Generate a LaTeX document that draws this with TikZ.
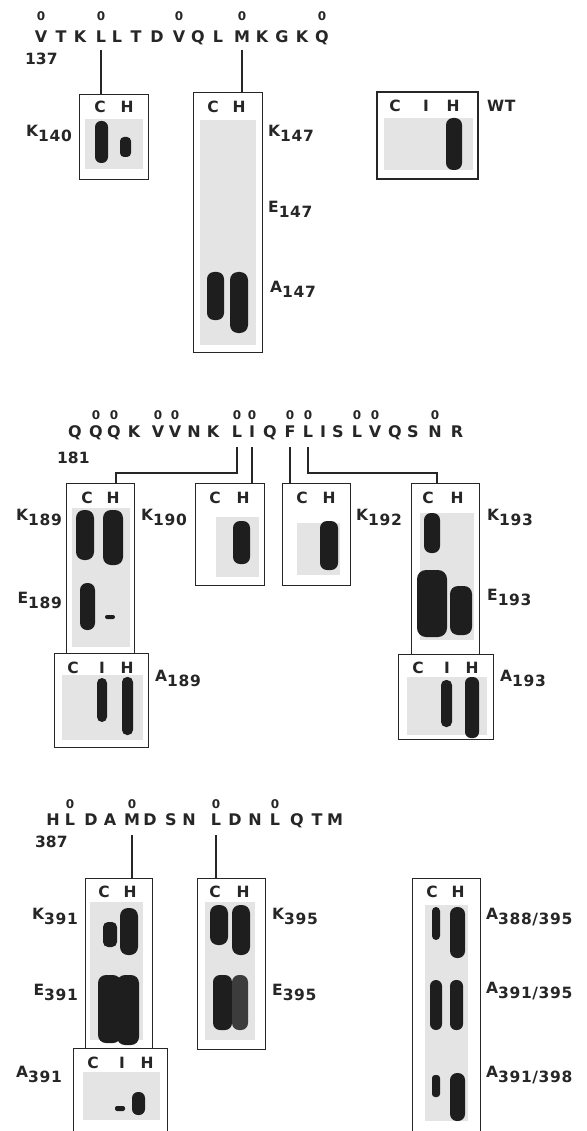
\documentclass[tikz,border=0pt]{standalone}
\usepackage{fontspec}
\setmainfont{DejaVu Sans}
\newfontfamily\labfont[LetterSpace=4]{DejaVu Sans}
\usetikzlibrary{calc}
\definecolor{gelgray}{HTML}{E4E4E4}
\definecolor{bandc}{HTML}{1E1E1E}
\definecolor{bandlight}{HTML}{3C3C3C}
\definecolor{inkc}{HTML}{262626}
\newcommand{\lo}[1]{\raisebox{-5pt}{#1}}
\begin{document}
\begin{tikzpicture}[x=1pt,y=-1pt,
  seq/.style={inner sep=0pt, anchor=base, font=\fontsize{16}{16}\selectfont\bfseries, text=inkc},
  omark/.style={inner sep=0pt, anchor=base, font=\fontsize{12}{12}\selectfont\bfseries, text=inkc},
  lane/.style={inner sep=0pt, anchor=base, font=\fontsize{15.5}{16}\selectfont\bfseries, text=inkc},
  lab/.style={inner sep=0pt, font=\labfont\fontsize{15.5}{16}\selectfont\bfseries, text=inkc},
  num/.style={inner sep=0pt, anchor=base west, font=\fontsize{15.5}{16}\selectfont\bfseries, text=inkc},
  gelbox/.style={draw=inkc, line width=1.3pt, inner sep=0pt, anchor=north west},
  conn/.style={draw=inkc, line width=1.2pt},
  gel/.style={fill=gelgray},
  band/.style={fill=bandc, rounded corners=#1},
  band/.default=5pt,
]
\clip (0,0) rectangle (586,1131);
\fill[white] (0,0) rectangle (586,1131);

% ================= TOP SECTION =================
\foreach \ch/\xx [count=\i] in {V/41,T/61,K/80,L/101,L/117,T/136,D/157,V/179,Q/198,L/218,M/242,K/262,G/282,K/302,Q/322}
  \node[seq] (t\i) at (\xx,43) {\ch};
\foreach \k in {1,4,8,11,15}
  \node[omark] (to\k) at (t\k |- 0,21) {0};
\node[num] (n137) at (25,65) {137};

\node[gelbox, minimum width=69pt, minimum height=85pt] (k140) at (79,94) {};
\node[gelbox, minimum width=69pt, minimum height=260pt] (k147) at (193,92) {};
\node[gelbox, line width=2.4pt, minimum width=101pt, minimum height=87pt] (wt) at (376,91) {};

\draw[conn] ([yshift=-7pt]t4.base) -- (t4 |- k140.north);
\draw[conn] ([yshift=-7pt]t11.base) -- (t11 |- k147.north);

\fill[gel] (85,119) rectangle (143,169);
\fill[band=6pt] (95,121) rectangle (108,163);
\fill[band=4pt] (120,137) rectangle (131,157);
\fill[gel] (200,120) rectangle (256,345);
\fill[band=7pt] (207,272) rectangle (224,320);
\fill[band=8pt] (230,272) rectangle (248,333);
\fill[gel] (384,118) rectangle (473,170);
\fill[band=7pt] (446,118) rectangle (462,170);

\node[lane] (k140c) at (100,113) {C};
\node[lane] (k140h) at (127,113) {H};
\node[lane] (k147c) at (213,113) {C};
\node[lane] (k147h) at (239,113) {H};
\node[lane] (wtc) at (395,112) {C};
\node[lane] (wti) at (426,112) {I};
\node[lane] (wth) at (453,112) {H};

\node[lab, anchor=base east] (lk140) at (72,137) {K\lo{140}};
\node[lab, anchor=base west] (lk147) at (268,137) {K\lo{147}};
\node[lab, anchor=base west] (le147) at (268,213) {E\lo{147}};
\node[lab, anchor=base west] (la147) at (270,293) {A\lo{147}};
\node[lab, anchor=base west] (lwt) at (487,112) {WT};

% ================= MIDDLE SECTION =================
\foreach \ch/\xx [count=\i] in {Q/75,Q/96,Q/114,K/134,V/158,V/175,N/194,K/213,L/237,I/252,Q/270,F/290,L/308,I/323,S/338,L/357,V/375,Q/395,S/413,N/435,R/457}
  \node[seq] (m\i) at (\xx,437) {\ch};
\foreach \k in {2,3,5,6,9,10,12,13,16,17,20}
  \node[omark] (mo\k) at (m\k |- 0,419) {0};
\node[num] (n181) at (57,463) {181};

\node[gelbox, minimum width=68pt, minimum height=170pt] (k189) at (66,483) {};
\node[gelbox, minimum width=94pt, minimum height=94pt] (a189) at (54,653) {};
\node[gelbox, minimum width=69pt, minimum height=102pt] (k190) at (195,483) {};
\node[gelbox, minimum width=68pt, minimum height=102pt] (k192) at (282,483) {};
\node[gelbox, minimum width=68pt, minimum height=171pt] (k193) at (411,483) {};
\node[gelbox, minimum width=95pt, minimum height=85pt] (a193) at (398,654) {};

\coordinate (j1) at (116,473);
\coordinate (j2) at (437,473);
\draw[conn] ([yshift=-10pt]m9.base) |- (j1) -- (j1 |- k189.north);
\draw[conn] ([yshift=-10pt]m10.base) -- (m10 |- k190.north);
\draw[conn] ([yshift=-10pt]m12.base) -- (m12 |- k192.north);
\draw[conn] ([yshift=-10pt]m13.base) |- (j2) -- (j2 |- k193.north);

\fill[gel] (72,508) rectangle (130,647);
\fill[band=8pt] (76,510) rectangle (94,560);
\fill[band=8pt] (103,510) rectangle (123,565);
\fill[band=7pt] (80,583) rectangle (95,630);
\fill[band=2pt] (105,615) rectangle (115,619);
\fill[gel] (62,675) rectangle (143,740);
\fill[band=5pt] (97,678) rectangle (107,722);
\fill[band=5pt] (122,677) rectangle (133,735);
\fill[gel] (216,517) rectangle (259,577);
\fill[band=7pt] (233,521) rectangle (250,564);
\fill[gel] (297,523) rectangle (340,575);
\fill[band=7pt] (320,521) rectangle (338,570);
\fill[gel] (420,513) rectangle (474,640);
\fill[band=7pt] (424,513) rectangle (440,553);
\fill[band=9pt] (417,570) rectangle (447,637);
\fill[band=8pt] (450,586) rectangle (472,635);
\fill[gel] (407,677) rectangle (487,735);
\fill[band=5pt] (441,680) rectangle (452,727);
\fill[band=6pt] (465,677) rectangle (479,738);

\node[lane] (k189c) at (87,503) {C};
\node[lane] (k189h) at (113,503) {H};
\node[lane] (a189c) at (73,673) {C};
\node[lane] (a189i) at (102,673) {I};
\node[lane] (a189h) at (127,673) {H};
\node[lane] (k190c) at (215,503) {C};
\node[lane] (k190h) at (243,503) {H};
\node[lane] (k192c) at (302,503) {C};
\node[lane] (k192h) at (329,503) {H};
\node[lane] (k193c) at (428,503) {C};
\node[lane] (k193h) at (457,503) {H};
\node[lane] (a193c) at (418,673) {C};
\node[lane] (a193i) at (447,673) {I};
\node[lane] (a193h) at (472,673) {H};

\node[lab, anchor=base east] (lk189) at (62,520) {K\lo{189}};
\node[lab, anchor=base east] (le189) at (62,603) {E\lo{189}};
\node[lab, anchor=base west] (la189) at (155,681) {A\lo{189}};
\node[lab, anchor=base west] (lk190) at (141,520) {K\lo{190}};
\node[lab, anchor=base west] (lk192) at (356,520) {K\lo{192}};
\node[lab, anchor=base west] (lk193) at (487,520) {K\lo{193}};
\node[lab, anchor=base west] (le193) at (487,600) {E\lo{193}};
\node[lab, anchor=base west] (la193) at (500,681) {A\lo{193}};

% ================= BOTTOM SECTION =================
\foreach \ch/\xx [count=\i] in {H/53,L/70,D/91,A/110,M/132,D/150,S/171,N/189,L/216,D/235,N/255,L/275,Q/297,T/317,M/335}
  \node[seq] (b\i) at (\xx,825) {\ch};
\foreach \k in {2,5,9,12}
  \node[omark] (bo\k) at (b\k |- 0,808) {0};
\node[num] (n387) at (35,847) {387};

\node[gelbox, minimum width=67pt, minimum height=170pt] (k391) at (85,878) {};
\node[gelbox, minimum width=94pt, minimum height=92pt] (a391) at (73,1048) {};
\node[gelbox, minimum width=68pt, minimum height=171pt] (k395) at (197,878) {};
\node[gelbox, minimum width=68pt, minimum height=262pt] (dbl) at (412,878) {};

\draw[conn] ([yshift=-10pt]b5.base) -- (b5 |- k391.north);
\draw[conn] ([yshift=-10pt]b9.base) -- (b9 |- k395.north);

\fill[gel] (90,902) rectangle (143,1040);
\fill[band=5pt] (103,922) rectangle (117,947);
\fill[band=8pt] (120,908) rectangle (138,955);
\fill[band=8pt] (98,975) rectangle (121,1043);
\fill[band=8pt] (117,975) rectangle (139,1045);
\fill[gel] (83,1072) rectangle (160,1120);
\fill[band=2pt] (115,1106) rectangle (125,1111);
\fill[band=6pt] (132,1092) rectangle (145,1115);
\fill[gel] (205,902) rectangle (255,1040);
\fill[band=8pt] (210,905) rectangle (228,945);
\fill[band=8pt] (232,905) rectangle (250,955);
\fill[band=7pt] (213,975) rectangle (232,1030);
\fill[band=7pt, fill=bandlight] (232,975) rectangle (248,1030);
\fill[gel] (425,905) rectangle (468,1121);
\fill[band=4pt] (432,907) rectangle (440,940);
\fill[band=7pt] (450,907) rectangle (465,958);
\fill[band=6pt] (430,980) rectangle (442,1030);
\fill[band=6pt] (450,980) rectangle (463,1030);
\fill[band=3pt] (432,1075) rectangle (440,1097);
\fill[band=7pt] (450,1073) rectangle (465,1121);

\node[lane] (k391c) at (104,897) {C};
\node[lane] (k391h) at (130,897) {H};
\node[lane] (a391c) at (93,1068) {C};
\node[lane] (a391i) at (122,1068) {I};
\node[lane] (a391h) at (147,1068) {H};
\node[lane] (k395c) at (215,897) {C};
\node[lane] (k395h) at (243,897) {H};
\node[lane] (dblc) at (432,897) {C};
\node[lane] (dblh) at (458,897) {H};

\node[lab, anchor=base east] (lk391) at (78,919) {K\lo{391}};
\node[lab, anchor=base east] (le391) at (78,995) {E\lo{391}};
\node[lab, anchor=base east] (la391) at (62,1077) {A\lo{391}};
\node[lab, anchor=base west] (lk395) at (272,919) {K\lo{395}};
\node[lab, anchor=base west] (le395) at (272,995) {E\lo{395}};
\node[lab, anchor=base west] (ld1) at (486,919) {A\lo{388/395}};
\node[lab, anchor=base west] (ld2) at (486,993) {A\lo{391/395}};
\node[lab, anchor=base west] (ld3) at (486,1077) {A\lo{391/398}};
\end{tikzpicture}
\end{document}
